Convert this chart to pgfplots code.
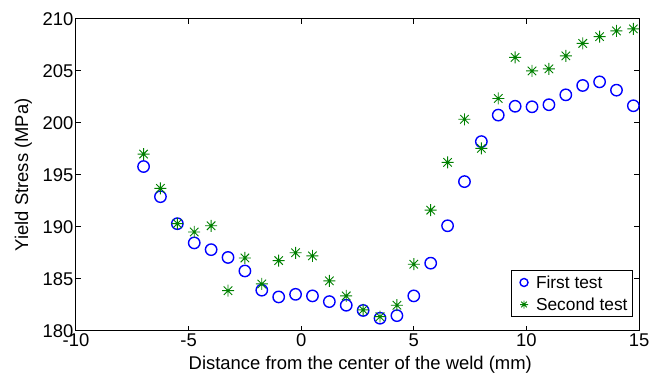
\documentclass[border=0pt]{standalone}
\usepackage{pgfplots}
\pgfplotsset{compat=1.18}
\usepackage{fontspec}
\setmainfont{Liberation Sans}
\definecolor{mblue}{RGB}{0,0,255}
\definecolor{mgreen}{RGB}{0,128,0}
\pgfdeclareplotmark{mstar}{%
  \pgfpathmoveto{\pgfpoint{-\pgfplotmarksize}{0pt}}\pgfpathlineto{\pgfpoint{\pgfplotmarksize}{0pt}}%
  \pgfpathmoveto{\pgfpoint{0pt}{-\pgfplotmarksize}}\pgfpathlineto{\pgfpoint{0pt}{\pgfplotmarksize}}%
  \pgfpathmoveto{\pgfpoint{-0.707\pgfplotmarksize}{-0.707\pgfplotmarksize}}\pgfpathlineto{\pgfpoint{0.707\pgfplotmarksize}{0.707\pgfplotmarksize}}%
  \pgfpathmoveto{\pgfpoint{-0.707\pgfplotmarksize}{0.707\pgfplotmarksize}}\pgfpathlineto{\pgfpoint{0.707\pgfplotmarksize}{-0.707\pgfplotmarksize}}%
  \pgfusepathqstroke}
\pgfplotstableread{
x first second
-7.00 195.8 197.0
-6.25 192.9 193.7
-5.50 190.3 190.3
-4.75 188.45 189.5
-4.00 187.8 190.1
-3.25 187.05 183.85
-2.50 185.75 187.0
-1.75 183.9 184.5
-1.00 183.25 186.75
-0.25 183.5 187.5
0.50 183.35 187.2
1.25 182.8 184.8
2.00 182.45 183.35
2.75 181.95 182.0
3.50 181.2 181.35
4.25 181.45 182.45
5.00 183.35 186.4
5.75 186.5 191.6
6.50 190.1 196.2
7.25 194.35 200.35
8.00 198.2 197.55
8.75 200.75 202.35
9.50 201.6 206.3
10.25 201.55 205.0
11.00 201.75 205.2
11.75 202.7 206.45
12.50 203.6 207.65
13.25 203.95 208.3
14.00 203.15 208.85
14.75 201.65 209.05
}\datatable
\begin{document}
\begin{tikzpicture}[font=\fontsize{18.5}{22}\selectfont]
\begin{axis}[
  scale only axis,
  width=563bp, height=311.7bp,
  xmin=-10, xmax=15, ymin=180, ymax=210,
  xtick={-10,-5,0,5,10,15},
  ytick={180,185,190,195,200,205,210},
  tick align=inside,
  major tick length=5bp,
  axis line style={black, line width=1bp},
  every tick/.style={black, line width=1bp},
  /pgf/number format/assume math mode=true,
  ticklabel style={font=\fontsize{18.5}{22}\selectfont},
  yticklabel style={inner sep=2.5bp},
  xticklabel style={inner sep=2.5bp},
  xlabel={Distance from the center of the weld (mm)},
  ylabel={Yield Stress (MPa)},
  xlabel style={at={(axis description cs:0.505,-0.110)}, anchor=center, inner sep=0pt},
  ylabel style={at={(axis description cs:-0.0935,0.5)}, anchor=center, inner sep=0pt},
  legend cell align=left,
  legend image code/.code={%
    \path[draw=none, fill=none] (0bp,0bp) -- (20bp,0bp);
    \path[draw=none, fill=none] plot[mark size=4bp] coordinates {(10bp,0bp)};},
  legend style={at={(axis description cs:0.9893,0.044)}, anchor=south east,
    draw=black, line width=0.8bp, inner sep=3bp, row sep=4bp,
    nodes={inner sep=2bp},
    font=\fontsize{17.4}{20}\selectfont},
]
\addplot[only marks, mark=o, mark size=5.7bp, mblue, line width=1.4bp] table[x=x, y=first] {\datatable};
\addlegendentry{First test}
\addplot[only marks, mark=mstar, mark size=6bp, mgreen, line width=0.9bp] table[x=x, y=second] {\datatable};
\addlegendentry{Second test}
\end{axis}
\pgfresetboundingbox
\path[use as bounding box] ([xshift=-76bp,yshift=-43.3bp]current axis.south west) rectangle ([xshift=12bp,yshift=19bp]current axis.north east);
\end{tikzpicture}
\end{document}
